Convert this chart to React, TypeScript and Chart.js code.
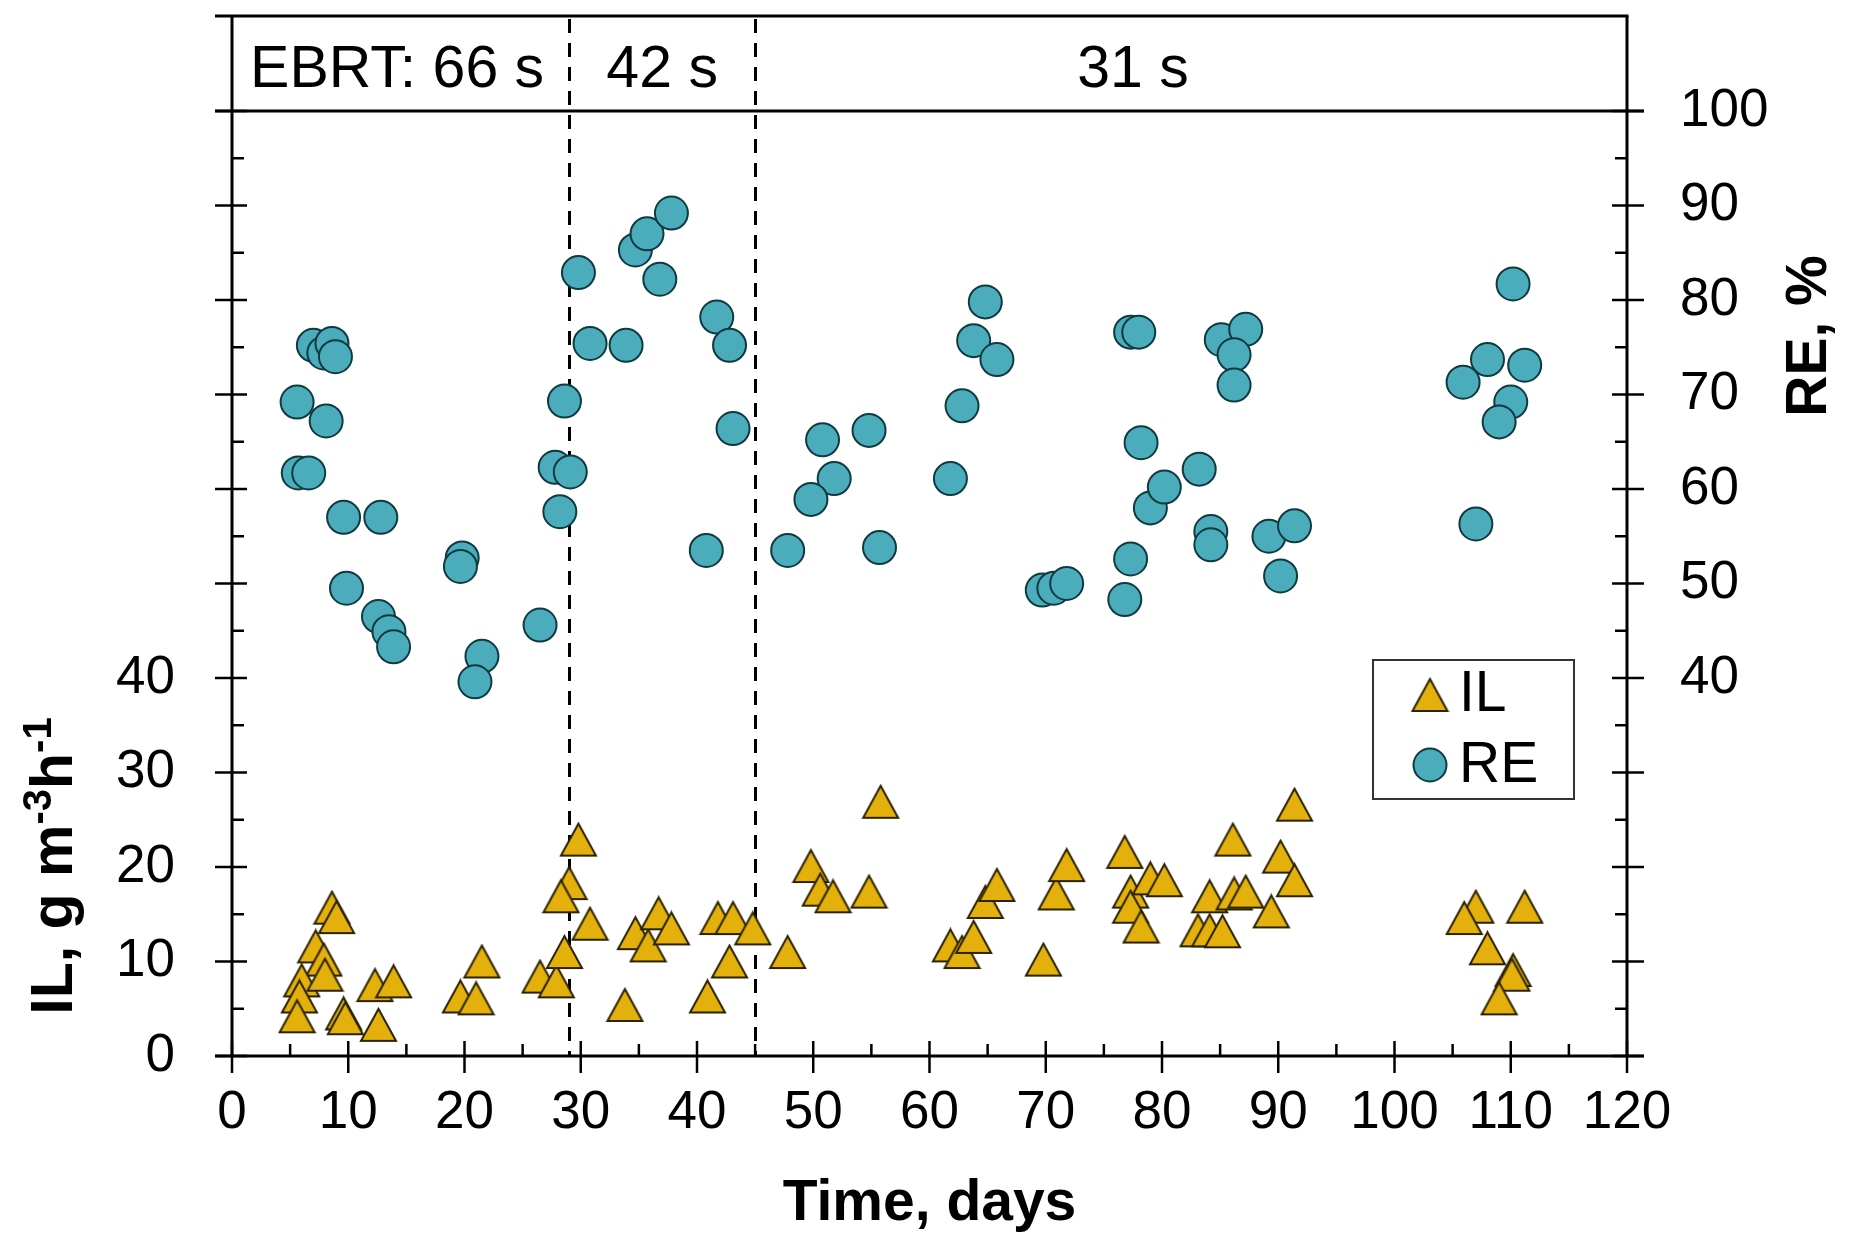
import React, { useEffect, useRef } from 'react';
import { Chart, registerables } from 'chart.js';

Chart.register(...registerables);

// ---- Data ----
const RE_DAYS = [
  7.0, 7.9, 8.6, 8.9, 5.6, 8.1, 5.7, 6.6, 9.6, 12.8, 9.85, 12.6, 13.5, 13.9,
  19.8, 19.65, 21.5, 20.9, 26.5, 28.2, 27.8, 29.1, 28.6, 29.8,
  30.8, 33.9, 34.7, 35.7, 37.8, 36.8, 41.7, 42.8, 43.1, 40.8,
  47.8, 50.8, 51.8, 49.8, 54.8, 55.7, 61.8, 62.8, 64.8, 63.8, 65.8,
  69.7, 70.7, 71.8, 77.3, 78.0, 78.2, 77.3, 76.8, 79.0, 80.2,
  83.2, 84.2, 84.2, 85.1, 87.2, 86.2, 86.2, 89.2, 91.4, 90.2,
  110.2, 108.0, 111.2, 105.9, 110.0, 109.0, 107.0,
];
const RE_VALUES = [
  75.2, 74.4, 75.4, 74.0, 69.2, 67.2, 61.7, 61.7, 57.0, 57.0, 49.5, 46.5, 44.9, 43.3,
  52.7, 51.8, 42.3, 39.6, 45.6, 57.6, 62.3, 61.8, 69.3, 82.9,
  75.4, 75.2, 85.3, 87.0, 89.2, 82.2, 78.2, 75.2, 66.4, 53.5,
  53.5, 65.2, 61.1, 58.9, 66.2, 53.8, 61.1, 68.8, 79.8, 75.7, 73.7,
  49.3, 49.5, 50.0, 76.6, 76.6, 64.9, 52.6, 48.3, 58.0, 60.2,
  62.1, 55.5, 54.1, 75.8, 76.9, 74.2, 71.0, 55.0, 56.1, 50.8,
  81.7, 73.7, 73.1, 71.3, 69.2, 67.1, 56.3,
];
const IL_DAYS = [
  8.6, 9.0, 7.2, 7.9, 6.0, 8.0, 5.8, 5.6, 9.6, 9.75, 12.6, 12.3, 13.9,
  21.5, 19.65, 21.0, 26.5, 27.9, 28.6, 29.0, 28.3, 29.8, 30.8,
  33.8, 34.7, 35.8, 36.7, 37.8, 40.9, 41.8, 43.1, 42.8, 44.8,
  47.8, 49.8, 50.6, 51.7, 54.8, 55.8, 61.8, 62.8, 63.8, 64.8, 65.8,
  69.8, 70.9, 71.8, 76.8, 77.3, 77.3, 78.2, 79.0, 80.2,
  83.1, 84.1, 85.2, 84.1, 86.2, 87.2, 86.1, 91.4, 90.2, 91.4, 89.4,
  107.0, 106.0, 111.2, 108.0, 110.2, 110.1, 109.0,
];
const IL_VALUES = [
  15.7, 14.7, 11.6, 10.2, 8.0, 8.6, 6.3, 4.2, 4.5, 4.0, 3.3, 7.5, 7.9,
  10.0, 6.3, 6.1, 8.4, 7.9, 11.0, 18.3, 16.9, 22.9, 14.0,
  5.4, 13.0, 11.7, 15.1, 13.5, 6.3, 14.6, 14.6, 10.0, 13.5,
  11.0, 20.1, 17.6, 16.9, 17.4, 26.9, 11.7, 11.0, 12.6, 16.3, 18.1,
  10.2, 17.2, 20.2, 21.6, 17.4, 15.8, 13.7, 18.8, 18.6,
  13.3, 13.3, 13.2, 16.9, 17.2, 17.4, 22.9, 26.6, 21.1, 18.6, 15.3,
  15.8, 14.6, 15.8, 11.4, 9.1, 8.6, 6.1,
];

const PHASE_BOUNDS = [29, 45];
const PHASE_LABELS = ['EBRT: 66 s', '42 s', '31 s'];
const PHASE_LABEL_X = [14.2, 37, 77.5];

const SERIES_NAMES = ['IL', 'RE'];
const X_TITLE = 'Time, days';
const RIGHT_TITLE = 'RE, %';

const FONT = '"Liberation Sans", Arial, sans-serif';
const IL_FILL = '#E3B00C';
const IL_STROKE = '#2A2200';
const RE_FILL = '#4BADBB';
const RE_STROKE = '#0F3A40';

function makeTriangle(w: number, h: number, fill: string, stroke: string, lw: number) {
  const c = document.createElement('canvas');
  c.width = Math.ceil(w + lw * 2);
  c.height = Math.ceil(h + lw * 2);
  const ctx = c.getContext('2d')!;
  ctx.beginPath();
  ctx.moveTo(lw, lw + h);
  ctx.lineTo(lw + w, lw + h);
  ctx.lineTo(lw + w / 2, lw);
  ctx.closePath();
  ctx.fillStyle = fill;
  ctx.fill();
  ctx.lineWidth = lw;
  ctx.lineJoin = 'miter';
  ctx.strokeStyle = stroke;
  ctx.stroke();
  return c;
}

export default function App() {
  const ref = useRef<HTMLCanvasElement | null>(null);

  useEffect(() => {
    const canvas = ref.current;
    if (!canvas) return;
    const tri = makeTriangle(35, 32, IL_FILL, IL_STROKE, 2);

    const framePlugin = {
      id: 'frame',
      beforeDatasetsDraw(chart: any) {
        const { ctx, chartArea: a, scales } = chart;
        const xs = scales.x;
        const ys = scales.y;
        const headerTop = a.top - 95;
        ctx.save();
        ctx.strokeStyle = '#000';
        ctx.lineCap = 'butt';

        const line = (x1: number, y1: number, x2: number, y2: number) => {
          ctx.beginPath();
          ctx.moveTo(x1, y1);
          ctx.lineTo(x2, y2);
          ctx.stroke();
        };

        // dashed phase boundaries
        ctx.lineWidth = 3;
        ctx.setLineDash([14, 10]);
        for (const b of PHASE_BOUNDS) {
          const px = Math.round(xs.getPixelForValue(b)) + 0.5;
          line(px, headerTop + 3, px, a.bottom);
        }
        ctx.setLineDash([]);

        ctx.lineWidth = 3;
        // frame
        line(a.left, headerTop, a.left, a.bottom);
        line(a.right, headerTop, a.right, a.bottom);
        line(a.left - 17, headerTop, a.right + 1.5, headerTop);
        line(a.left - 17, a.bottom, a.right + 17, a.bottom);
        line(a.left - 17, a.top, a.right + 17, a.top);

        // y ticks (both sides)
        ctx.lineWidth = 2.5;
        for (let v = 0; v <= 100; v += 5) {
          const py = ys.getPixelForValue(v);
          const major = v % 10 === 0;
          if (major) {
            line(a.left - 17, py, a.left + 15, py);
            line(a.right - 15, py, a.right + 17, py);
          } else {
            line(a.left, py, a.left + 12, py);
            line(a.right - 12, py, a.right, py);
          }
        }
        // x ticks
        for (let d = 0; d <= 120; d += 5) {
          const px = xs.getPixelForValue(d);
          if (d % 10 === 0) line(px, a.bottom - 15, px, a.bottom + 17);
          else line(px, a.bottom - 12, px, a.bottom);
        }

        // header labels
        ctx.fillStyle = '#000';
        ctx.font = `59px ${FONT}`;
        ctx.textAlign = 'center';
        ctx.textBaseline = 'alphabetic';
        PHASE_LABELS.forEach((t, i) => {
          ctx.fillText(t, xs.getPixelForValue(PHASE_LABEL_X[i]), headerTop + 71);
        });

        // x title
        ctx.font = `bold 57px ${FONT}`;
        ctx.fillText(X_TITLE, (a.left + a.right) / 2, a.bottom + 164);

        // right title
        ctx.save();
        ctx.translate(a.right + 199, a.top + 225);
        ctx.rotate(-Math.PI / 2);
        ctx.textAlign = 'center';
        ctx.fillText(RIGHT_TITLE, 0, 0);
        ctx.restore();

        // left title with superscripts
        ctx.save();
        ctx.translate(a.left - 160, a.bottom - 190);
        ctx.rotate(-Math.PI / 2);
        const big = `bold 59px ${FONT}`;
        const small = `bold 40px ${FONT}`;
        const parts: [string, boolean][] = [['IL, g m', false], ['-3', true], ['h', false], ['-1', true]];
        let total = 0;
        for (const [t, sup] of parts) {
          ctx.font = sup ? small : big;
          total += ctx.measureText(t).width;
        }
        let cx = -total / 2;
        ctx.textAlign = 'left';
        for (const [t, sup] of parts) {
          ctx.font = sup ? small : big;
          ctx.fillText(t, cx, sup ? -21 : 0);
          cx += ctx.measureText(t).width;
        }
        ctx.restore();

        ctx.restore();
      },
      afterDraw(chart: any) {
        const { ctx, chartArea: a } = chart;
        const bx = a.right - 254;
        const by = a.top + 549;
        const bw = 201;
        const bh = 139;
        ctx.save();
        ctx.fillStyle = '#fff';
        ctx.fillRect(bx, by, bw, bh);
        ctx.strokeStyle = '#333';
        ctx.lineWidth = 2;
        ctx.strokeRect(bx, by, bw, bh);
        // IL marker
        ctx.drawImage(tri, bx + 57 - tri.width / 2, by + 35 - tri.height / 2);
        // RE marker
        ctx.beginPath();
        ctx.arc(bx + 57, by + 105, 16.5, 0, Math.PI * 2);
        ctx.fillStyle = RE_FILL;
        ctx.fill();
        ctx.lineWidth = 2;
        ctx.strokeStyle = RE_STROKE;
        ctx.stroke();
        ctx.fillStyle = '#000';
        ctx.font = `57px ${FONT}`;
        ctx.textAlign = 'left';
        ctx.textBaseline = 'middle';
        ctx.fillText(SERIES_NAMES[0], bx + 86, by + 35);
        ctx.fillText(SERIES_NAMES[1], bx + 86, by + 106);
        ctx.restore();
      },
    };

    const tickFont = { family: FONT, size: 53 };

    const chart = new Chart(canvas, {
      type: 'scatter',
      data: {
        datasets: [
          {
            label: SERIES_NAMES[0],
            data: IL_DAYS.map((d, i) => ({ x: d, y: IL_VALUES[i] })),
            pointStyle: tri as any,
            pointRadius: 17,
            yAxisID: 'y',
          },
          {
            label: SERIES_NAMES[1],
            data: RE_DAYS.map((d, i) => ({ x: d, y: RE_VALUES[i] })),
            pointStyle: 'circle',
            pointRadius: 16.5,
            pointBackgroundColor: RE_FILL,
            pointBorderColor: RE_STROKE,
            pointBorderWidth: 2,
            yAxisID: 'y2',
          },
        ],
      },
      options: {
        animation: false,
        responsive: false,
        devicePixelRatio: 1,
        events: [],
        layout: { padding: { top: 111, left: 0, right: 0, bottom: 0 } },
        plugins: { legend: { display: false }, tooltip: { enabled: false } },
        scales: {
          x: {
            type: 'linear',
            min: 0,
            max: 120,
            grid: { display: false, drawTicks: false },
            border: { display: false },
            ticks: { stepSize: 10, autoSkip: false, maxRotation: 0, font: tickFont, color: '#000', padding: 26 },
            afterFit: (s: any) => { s.height = 187; },
          },
          y: {
            type: 'linear',
            position: 'left',
            min: 0,
            max: 100,
            grid: { display: false, drawTicks: false },
            border: { display: false },
            ticks: {
              stepSize: 10,
              autoSkip: false,
              font: tickFont,
              color: '#000',
              padding: 57,
              callback: (v: any) => (Number(v) <= 40 ? String(v) : ''),
            },
            afterFit: (s: any) => { s.width = 232; },
          },
          y2: {
            type: 'linear',
            position: 'right',
            min: 0,
            max: 100,
            grid: { display: false, drawTicks: false },
            border: { display: false },
            ticks: {
              stepSize: 10,
              autoSkip: false,
              font: tickFont,
              color: '#000',
              padding: 53,
              callback: (v: any) => (Number(v) >= 40 ? String(v) : ''),
            },
            afterFit: (s: any) => { s.width = 222; },
          },
        },
      },
      plugins: [framePlugin],
    });

    return () => chart.destroy();
  }, []);

  return (
    <div style={{ position: 'absolute', left: 0, top: 0, width: 1849, height: 1243, background: '#fff' }}>
      <canvas ref={ref} width={1849} height={1243} style={{ display: 'block', width: 1849, height: 1243 }} />
    </div>
  );
}
